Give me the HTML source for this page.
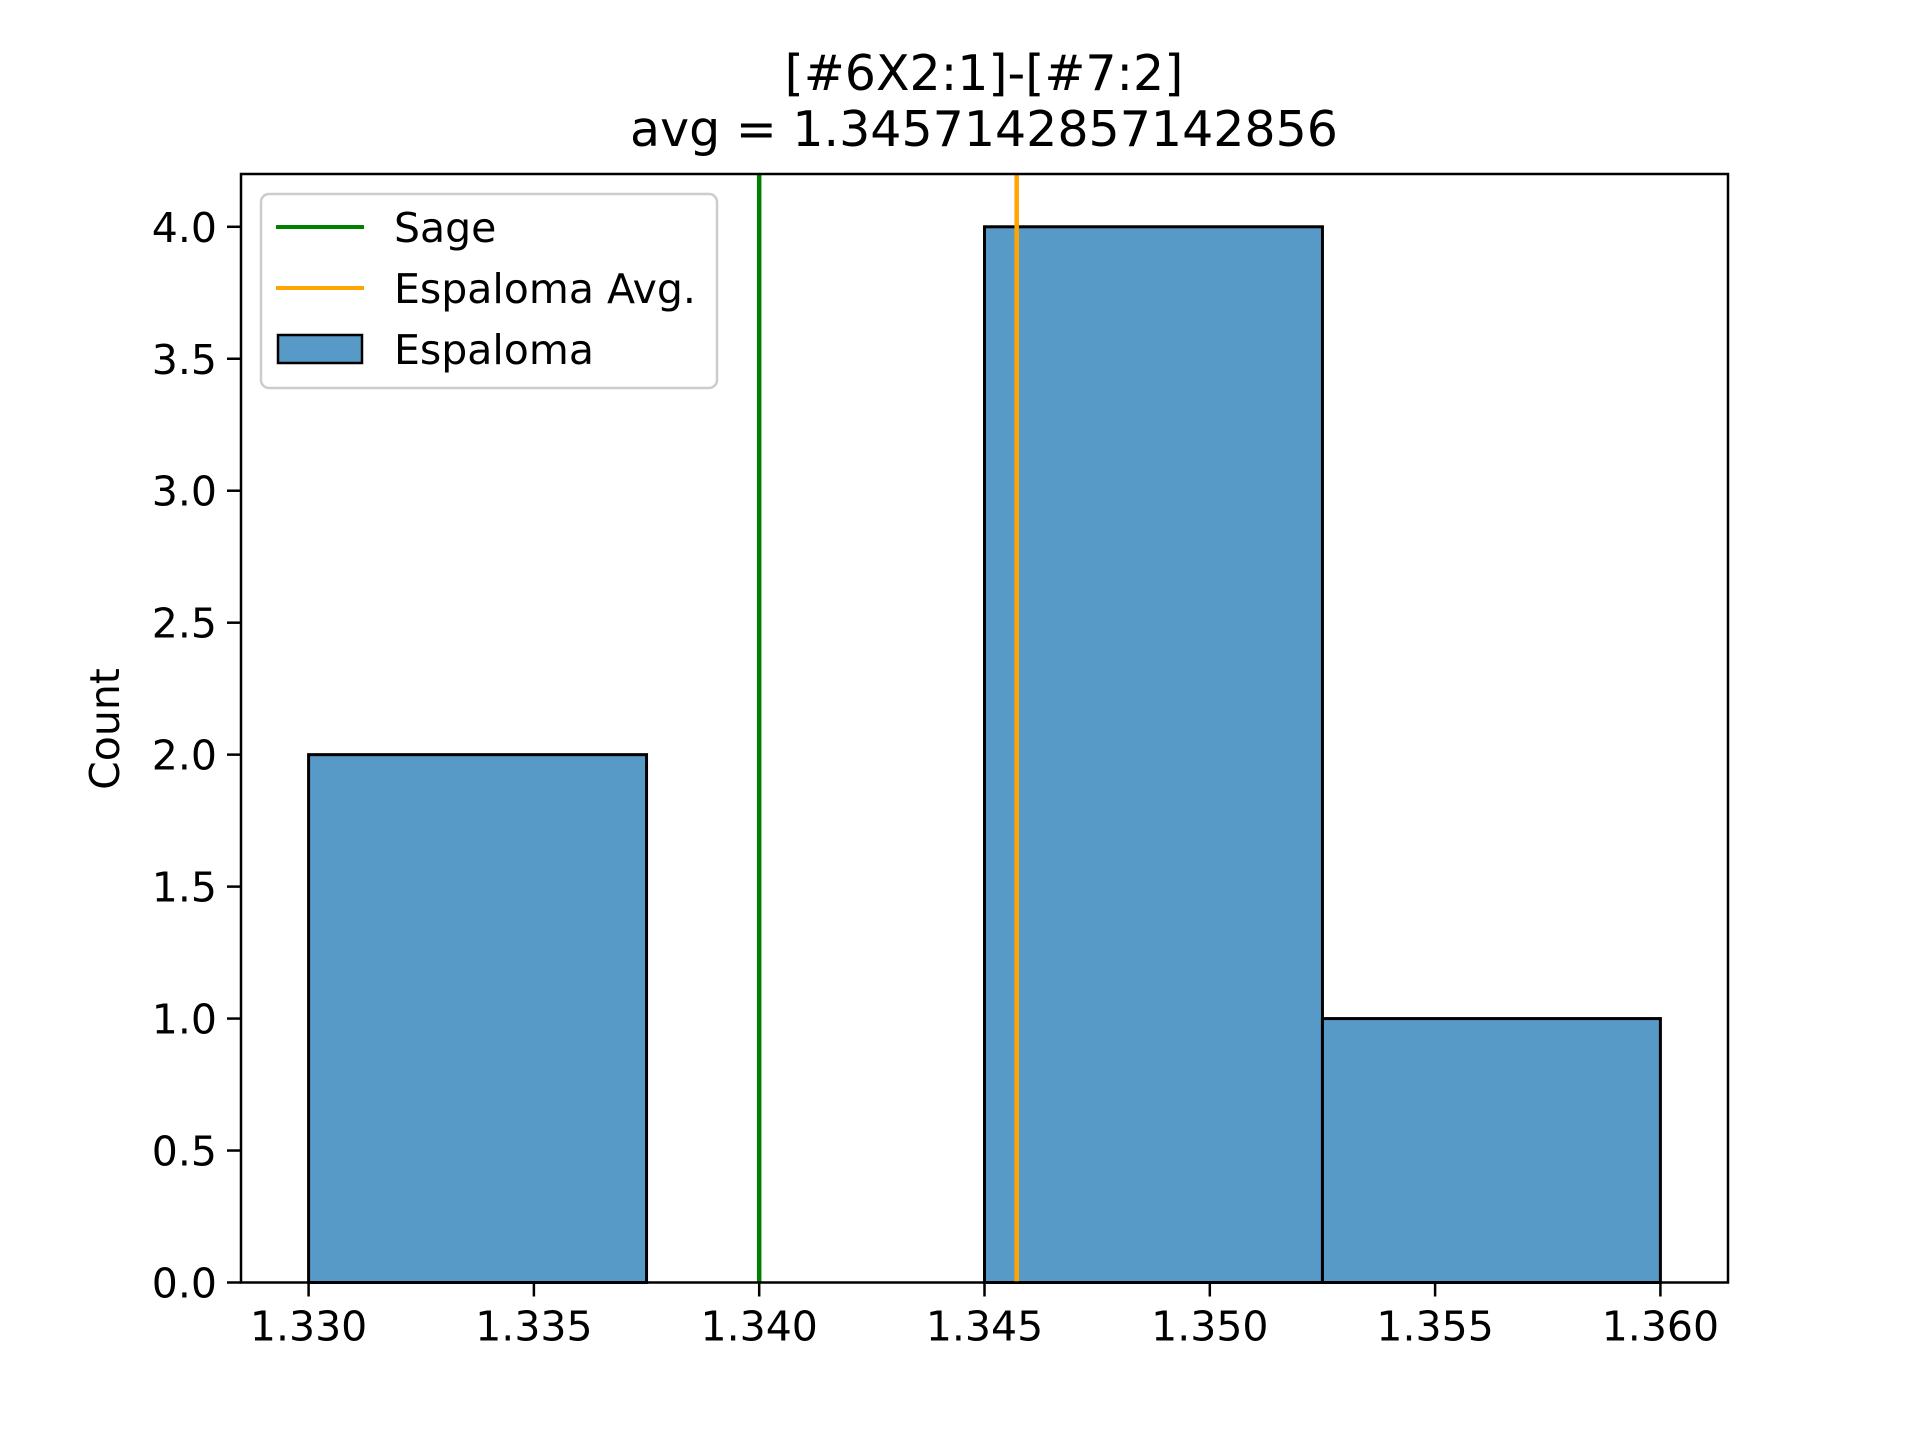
<!DOCTYPE html>
<html><head><meta charset="utf-8"><style>
html,body{margin:0;padding:0;background:#fff;}
svg{display:block;font-family:"DejaVu Sans","Liberation Sans",sans-serif;}
</style></head><body>
<svg id="chart" width="1920" height="1440" viewBox="0 0 1920 1440">
<text x="984" y="90" font-size="49" text-anchor="middle">[#6X2:1]-[#7:2]</text>
<text x="984" y="146" font-size="49" text-anchor="middle">avg = 1.3457142857142856</text>
<g id="bars"></g>
<g id="vlines"></g>
<g id="xticks"></g>
<g id="yticks"></g>
<rect x="241" y="174" width="1487" height="1108.5" fill="none" stroke="#000" stroke-width="2.5"/>
<text transform="translate(119,729) rotate(-90)" font-size="41" text-anchor="middle">Count</text>
<g>
<rect x="261" y="194" width="456" height="194" rx="8" fill="#fff" fill-opacity="0.8" stroke="#ccc" stroke-width="2.5"/>
<line x1="276" y1="227" x2="364" y2="227" stroke="green" stroke-width="4"/>
<text x="394" y="242" font-size="41">Sage</text>
<line x1="276" y1="288" x2="364" y2="288" stroke="orange" stroke-width="4"/>
<text x="394" y="303" font-size="41">Espaloma Avg.</text>
<rect x="278" y="335" width="84" height="28" fill="#5799c7" stroke="#000" stroke-width="2.5"/>
<text x="394" y="364" font-size="41">Espaloma</text>
</g>
</svg>
<script>
const binEdges = [1.330, 1.3375, 1.345, 1.3525, 1.360];
const counts = [2, 0, 4, 1];
const sageValue = 1.340;
const avgValue = 1.3457142857142856;
const xTicks = [1.330, 1.335, 1.340, 1.345, 1.350, 1.355, 1.360];
const xTickLabels = ["1.330","1.335","1.340","1.345","1.350","1.355","1.360"];
const yTicks = [0, 0.5, 1, 1.5, 2, 2.5, 3, 3.5, 4];
const yTickLabels = ["0.0","0.5","1.0","1.5","2.0","2.5","3.0","3.5","4.0"];

const NS = "http://www.w3.org/2000/svg";
const X0=241, X1=1728, Y0=1282.5, Y1=174;
const xMin=1.3285, xMax=1.3615, yMin=0, yMax=4.2;
const xs = v => X0 + (v - xMin)/(xMax - xMin)*(X1 - X0);
const ys = v => Y0 - (v - yMin)/(yMax - yMin)*(Y0 - Y1);
function mk(tag, attrs, parent){const e=document.createElementNS(NS,tag);for(const k in attrs)e.setAttribute(k,attrs[k]);parent.appendChild(e);return e;}

const gb=document.getElementById('bars');
counts.forEach((c,i)=>{
  const x=xs(binEdges[i]), x2=xs(binEdges[i+1]);
  const r=mk('rect',{x:x,y:ys(c),width:x2-x,height:ys(0)-ys(c),fill:'#5799c7',stroke:'#000','stroke-width':3},gb);
  
  
});
const gv=document.getElementById('vlines');
const l1=mk('line',{x1:xs(sageValue),x2:xs(sageValue),y1:Y1,y2:Y0,stroke:'green','stroke-width':4.5},gv);


const l2=mk('line',{x1:xs(avgValue),x2:xs(avgValue),y1:Y1,y2:Y0,stroke:'orange','stroke-width':4.5},gv);



const gx=document.getElementById('xticks');
xTicks.forEach((v,i)=>{
  const t=mk('line',{x1:xs(v),x2:xs(v),y1:Y0,y2:Y0+14,stroke:'#000','stroke-width':2.5},gx);
  
  
  const tx=mk('text',{x:xs(v),y:Y0+58,'font-size':41,'text-anchor':'middle'},gx);
  tx.textContent=xTickLabels[i];
  
  
});
const gy=document.getElementById('yticks');
yTicks.forEach((v,i)=>{
  const t=mk('line',{x1:X0-14,x2:X0,y1:ys(v),y2:ys(v),stroke:'#000','stroke-width':2.5},gy);
  
  
  const tx=mk('text',{x:X0-24,y:ys(v)+15,'font-size':41,'text-anchor':'end'},gy);
  tx.textContent=yTickLabels[i];
  
  
});
</script>
</body></html>
